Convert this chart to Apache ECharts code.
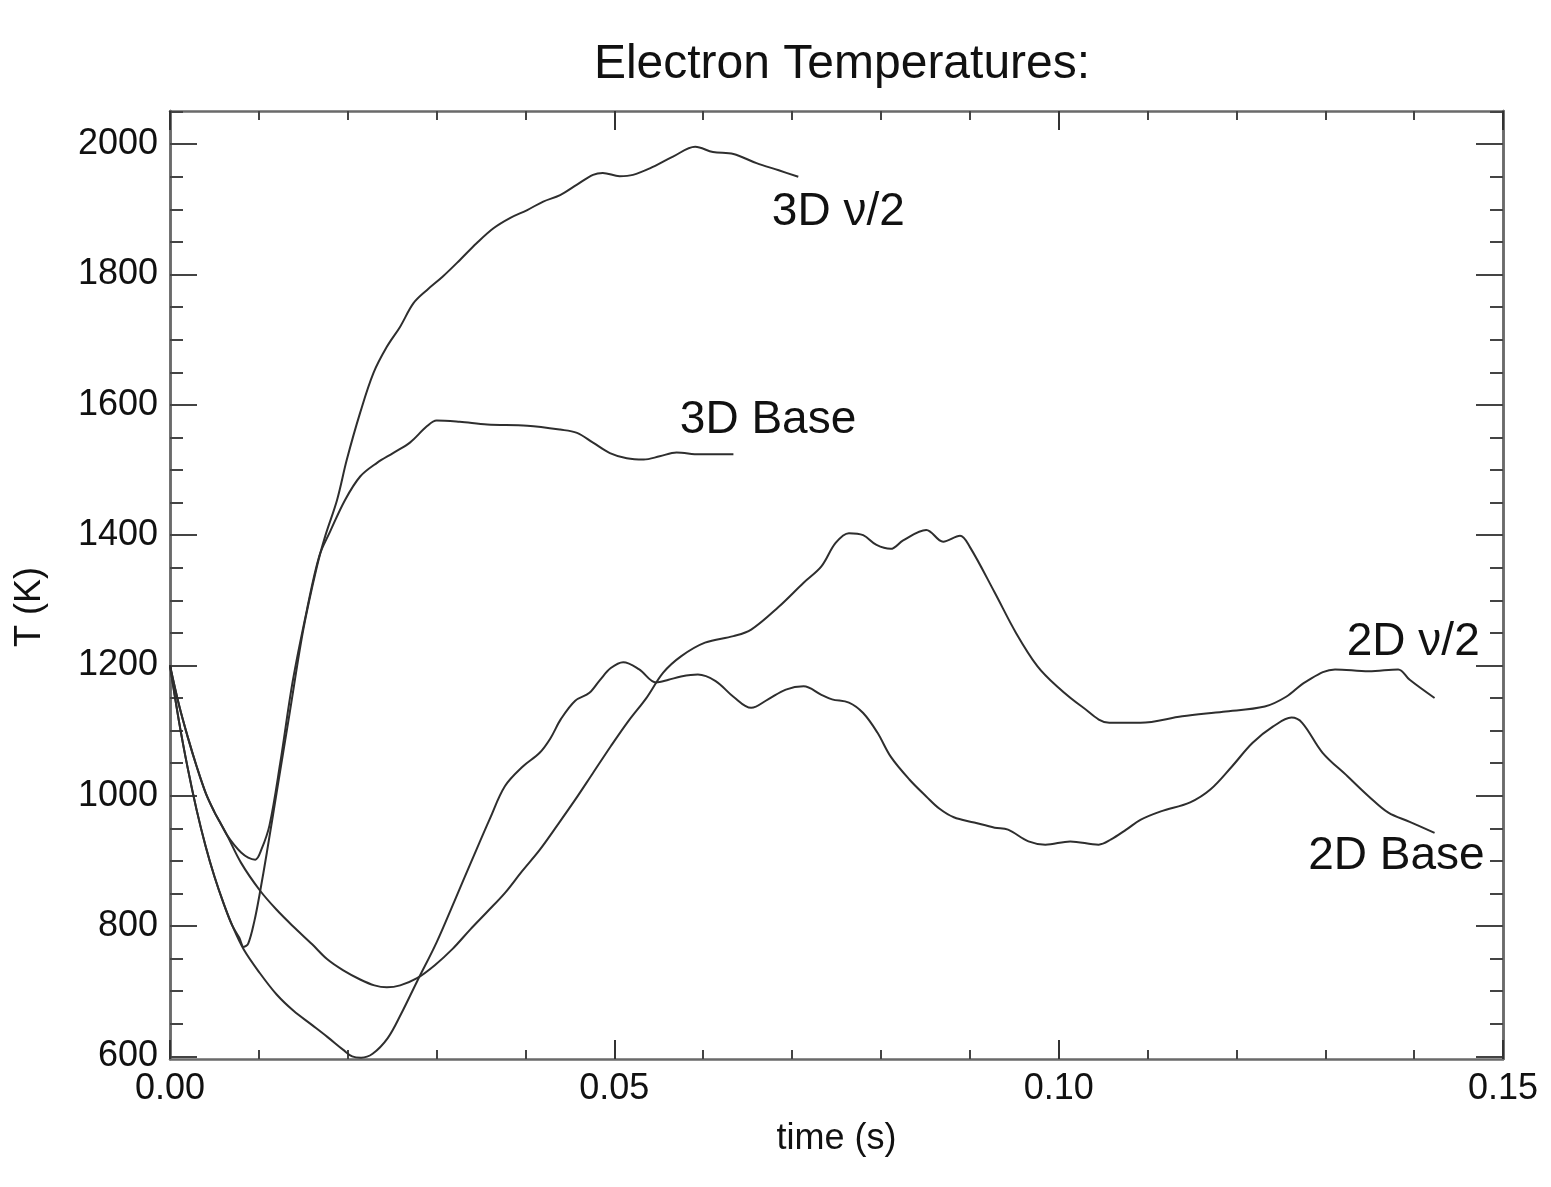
<!DOCTYPE html>
<html>
<head>
<meta charset="utf-8">
<script src="https://cdn.jsdelivr.net/npm/echarts@6.0.0/dist/echarts.min.js"></script>
<style>
html,body{margin:0;padding:0;background:#fff;}
#chart{width:1551px;height:1187px;}
</style>
</head>
<body>
<div id="chart"></div>
<script>
// ---------- data (time in s, temperature in K) ----------
const t3DNu = [0, 0.001, 0.002, 0.003, 0.004, 0.005, 0.006, 0.007, 0.0078, 0.0083, 0.0088, 0.0095, 0.0101, 0.0109, 0.012, 0.0135, 0.015, 0.0165, 0.0175, 0.0188, 0.0199, 0.0214, 0.0229, 0.0244, 0.0259, 0.0274, 0.0289, 0.0307, 0.0326, 0.0345, 0.0364, 0.0383, 0.0402, 0.042, 0.0439, 0.0458, 0.0476, 0.0487, 0.0506, 0.0521, 0.054, 0.0566, 0.0591, 0.0611, 0.0634, 0.066, 0.0685, 0.0707];
const T3DNu = [1200, 1115, 1042, 978, 923, 876, 836, 801, 782, 768, 773, 808, 850, 913, 1005, 1130, 1255, 1350, 1400, 1454, 1516, 1588, 1649, 1689, 1720, 1756, 1776, 1797, 1822, 1848, 1871, 1887, 1899, 1912, 1922, 1938, 1953, 1956, 1951, 1953, 1963, 1981, 1996, 1988, 1985, 1971, 1960, 1950];

const t3DBase = [0, 0.001, 0.002, 0.003, 0.004, 0.005, 0.0056, 0.0064, 0.0072, 0.008, 0.0088, 0.0096, 0.0103, 0.0112, 0.0124, 0.0138, 0.0154, 0.0168, 0.018, 0.0197, 0.0214, 0.0233, 0.0251, 0.027, 0.0289, 0.030, 0.0326, 0.0357, 0.0402, 0.0439, 0.0458, 0.0476, 0.0495, 0.0514, 0.0533, 0.0551, 0.057, 0.0596, 0.0634];
const T3DBase = [1200, 1140, 1090, 1045, 1005, 975, 960, 940, 925, 913, 905, 902, 918, 955, 1050, 1175, 1285, 1368, 1405, 1454, 1490, 1511, 1526, 1542, 1567, 1576, 1574, 1570, 1568, 1562, 1557, 1542, 1526, 1518, 1516, 1521, 1527, 1524, 1524];

const t2DNu = [0, 0.001, 0.002, 0.003, 0.004, 0.005, 0.0056, 0.0064, 0.008, 0.0101, 0.012, 0.0139, 0.016, 0.0177, 0.0195, 0.0214, 0.023, 0.0244, 0.0259, 0.0278, 0.0298, 0.0318, 0.0338, 0.0357, 0.0377, 0.0396, 0.0416, 0.0436, 0.0456, 0.0476, 0.0496, 0.0516, 0.0536, 0.0555, 0.0575, 0.0602, 0.0634, 0.0654, 0.0685, 0.0713, 0.0733, 0.0749, 0.0764, 0.078, 0.0795, 0.0811, 0.0825, 0.0851, 0.087, 0.0889, 0.09, 0.0928, 0.0952, 0.0976, 0.0998, 0.1026, 0.1057, 0.1092, 0.1139, 0.1185, 0.1232, 0.1256, 0.1278, 0.1311, 0.1349, 0.1382, 0.1395, 0.1423];
const T2DNu = [1200, 1140, 1090, 1045, 1005, 975, 960, 940, 897, 855, 825, 799, 772, 749, 732, 718, 709, 706, 709, 720, 740, 765, 795, 822, 851, 884, 917, 955, 994, 1035, 1076, 1115, 1150, 1189, 1214, 1235, 1245, 1255, 1290, 1327, 1352, 1388, 1403, 1400, 1385, 1379, 1392, 1408, 1390, 1399, 1382, 1312, 1250, 1199, 1168, 1137, 1112, 1112, 1122, 1129, 1137, 1152, 1175, 1194, 1191, 1194, 1178, 1150];

const t2DBase = [0, 0.001, 0.002, 0.003, 0.004, 0.005, 0.006, 0.007, 0.0083, 0.0101, 0.012, 0.0139, 0.016, 0.0177, 0.0195, 0.0205, 0.0215, 0.0228, 0.0245, 0.026, 0.0278, 0.030, 0.032, 0.034, 0.036, 0.0377, 0.0397, 0.0416, 0.0428, 0.044, 0.0456, 0.0472, 0.0484, 0.0496, 0.051, 0.0528, 0.0547, 0.0561, 0.0575, 0.0594, 0.0614, 0.0634, 0.0654, 0.0673, 0.0693, 0.0713, 0.0733, 0.0745, 0.0764, 0.078, 0.0796, 0.0811, 0.0832, 0.0851, 0.0866, 0.0882, 0.0905, 0.0928, 0.0943, 0.0966, 0.0985, 0.1013, 0.1045, 0.1059, 0.1076, 0.1092, 0.1115, 0.1148, 0.1171, 0.1195, 0.1218, 0.1241, 0.1262, 0.1274, 0.1297, 0.1325, 0.1349, 0.1371, 0.1395, 0.1423];
const T2DBase = [1200, 1115, 1042, 978, 923, 876, 836, 801, 764, 728, 695, 670, 648, 630, 610, 600, 598, 604, 628, 665, 715, 775, 838, 902, 965, 1015, 1045, 1066, 1088, 1118, 1146, 1158, 1178, 1196, 1205, 1194, 1174, 1178, 1183, 1186, 1176, 1152, 1135, 1148, 1163, 1168, 1155, 1148, 1143, 1127, 1097, 1060, 1025, 999, 980, 967, 959, 951, 948, 930, 925, 930, 925, 933, 948, 963, 976, 990, 1010, 1045, 1081, 1106, 1120, 1112, 1066, 1030, 999, 974, 960, 943];

// curve labels: text and anchor (time, temperature)
const labelTexts = ['3D \u03bd/2', '3D Base', '2D \u03bd/2', '2D Base'];
const labelTimes = [0.0752, 0.0673, 0.1399, 0.1380];
const labelTemps = [1895, 1577, 1236, 907];

// axis ticks
const xMin = 0, xMax = 0.15, xMajor = 0.05;
const yMin = 596, yMax = 2051;
const yMajorTicks = [600, 800, 1000, 1200, 1400, 1600, 1800, 2000];
const yMinorTicks = [650, 700, 750, 850, 900, 950, 1050, 1100, 1150, 1250, 1300, 1350, 1450, 1500, 1550, 1650, 1700, 1750, 1850, 1900, 1950, 2050];

const titleText = 'Electron Temperatures:';
const xName = 'time (s)';
const yName = 'T (K)';

// ---------- chart ----------
const FONT = "'Liberation Sans', Arial, Helvetica, sans-serif";
const AXIS_COLOR = '#6a6a6a';
const LINE_COLOR = '#2e2e2e';

function pairs(ts, vs) { return ts.map((t, i) => [t, vs[i]]); }

const chart = echarts.init(document.getElementById('chart'), null, {renderer: 'canvas'});

function xAxisDef(pos, showLabel) {
  return {
    type: 'value', position: pos, min: xMin, max: xMax, interval: xMajor,
    name: showLabel ? xName : '',
    nameLocation: 'middle', nameGap: 62,
    nameTextStyle: {fontFamily: FONT, fontSize: 36, color: '#111'},
    axisLine: {show: true, onZero: false, lineStyle: {color: AXIS_COLOR, width: 2.5}},
    axisTick: {show: true, inside: true, length: 19, lineStyle: {color: '#333', width: 2}},
    minorTick: {show: true, splitNumber: 5, length: 9, lineStyle: {color: '#444', width: 2}},
    splitLine: {show: false}, minorSplitLine: {show: false},
    axisLabel: {show: showLabel, margin: 12, fontFamily: FONT, fontSize: 36, color: '#111',
      formatter: v => v.toFixed(2)}
  };
}
function yAxisDef(pos, showLabel, ticks, len) {
  return {
    type: 'value', position: pos, min: yMin, max: yMax,
    name: showLabel ? yName : '',
    nameLocation: 'middle', nameGap: 122, nameRotate: 90,
    nameTextStyle: {fontFamily: FONT, fontSize: 36, color: '#111', padding: [0, 44, 0, 0]},
    axisLine: {show: true, onZero: false, lineStyle: {color: AXIS_COLOR, width: 2.5}},
    axisTick: {show: true, inside: true, length: len, customValues: ticks, lineStyle: {color: '#444', width: 2}},
    splitLine: {show: false},
    axisLabel: {show: showLabel, margin: 12, customValues: yMajorTicks, fontFamily: FONT, fontSize: 36, color: '#111',
      formatter: v => String(Math.round(v))}
  };
}

const curveStyle = {color: LINE_COLOR, width: 2};
function lineSeries(name, ts, vs) {
  return {
    name: name, type: 'line', xAxisIndex: 0, yAxisIndex: 0,
    data: pairs(ts, vs), showSymbol: false, symbol: 'none',
    smooth: 0.35, lineStyle: curveStyle, itemStyle: {color: LINE_COLOR},
    silent: true, z: 3
  };
}

chart.setOption({
  animation: false,
  backgroundColor: '#ffffff',
  title: {
    text: titleText, left: 837, textAlign: 'center', top: 36,
    textStyle: {fontFamily: FONT, fontSize: 48, fontWeight: 'normal', color: '#111'}
  },
  grid: {left: 170, right: 48, top: 111, bottom: 128, containLabel: false},
  xAxis: [xAxisDef('bottom', true), xAxisDef('top', false)],
  yAxis: [
    yAxisDef('left', true, yMajorTicks, 27),
    yAxisDef('right', false, yMajorTicks, 27),
    yAxisDef('left', false, yMinorTicks, 13),
    yAxisDef('right', false, yMinorTicks, 13)
  ],
  series: [
    lineSeries('3D \u03bd/2', t3DNu, T3DNu),
    lineSeries('3D Base', t3DBase, T3DBase),
    lineSeries('2D \u03bd/2', t2DNu, T2DNu),
    lineSeries('2D Base', t2DBase, T2DBase),
    {
      type: 'scatter', xAxisIndex: 0, yAxisIndex: 0, symbolSize: 1,
      itemStyle: {color: 'rgba(255,255,255,0)', opacity: 1}, silent: true,
      data: labelTexts.map((s, i) => ({name: s, value: [labelTimes[i], labelTemps[i]]})),
      label: {show: true, position: 'inside', formatter: p => p.name, opacity: 1,
        fontFamily: FONT, fontSize: 46, color: '#111', textBorderWidth: 0}
    }
  ]
});
</script>
</body>
</html>
